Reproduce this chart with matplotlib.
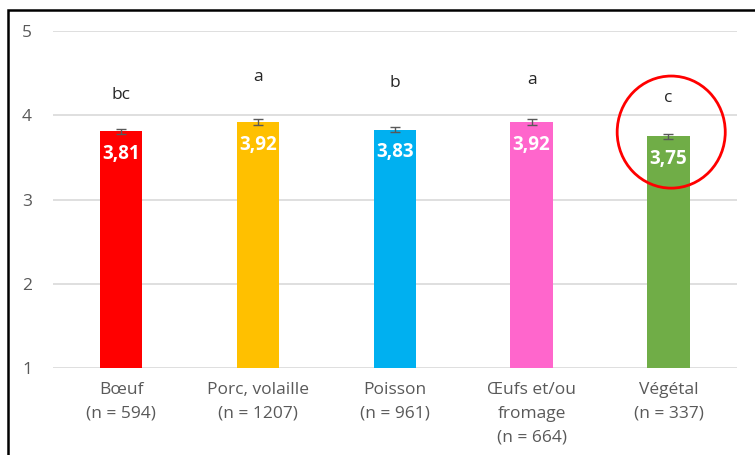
import matplotlib.pyplot as plt
from matplotlib.patches import Ellipse, Rectangle

plt.rcParams['font.family'] = ['Open Sans', 'DejaVu Sans']

categories = ["Bœuf\n(n = 594)", "Porc, volaille\n(n = 1207)", "Poisson\n(n = 961)",
              "Œufs et/ou\nfromage\n(n = 664)", "Végétal\n(n = 337)"]
means = [3.81, 3.92, 3.83, 3.92, 3.75]
errors = [0.03, 0.03, 0.03, 0.03, 0.03]
groups = ["bc", "a", "b", "a", "c"]
group_y = [4.24, 4.45, 4.38, 4.42, 4.21]
colors = ["#ff0000", "#ffc000", "#00b0f0", "#ff66cc", "#70ad47"]

fig = plt.figure(figsize=(7.55, 4.55), dpi=100)
ax = fig.add_axes([0.070, 0.191, 0.906, 0.741])

x = range(len(categories))
ax.bar(x, [m - 1 for m in means], bottom=1, width=0.31, color=colors, zorder=3)
ax.errorbar(x, means, yerr=errors, fmt="none", ecolor="#595959", elinewidth=1,
            capsize=3.5, capthick=1, zorder=4)

for i, m in enumerate(means):
    ax.text(i, m - 0.27, f"{m:.2f}".replace(".", ","), ha="center", va="center",
            color="white", fontsize=13.5, fontweight="bold", zorder=5)
    ax.text(i, group_y[i], groups[i], ha="center", va="center",
            color="#262626", fontsize=12.5)

ax.set_ylim(1, 5)
ax.set_xlim(-0.5, 4.5)
ax.set_yticks([1, 2, 3, 4, 5])
ax.set_xticks(list(x))
ax.set_xticklabels(categories, fontsize=12.5, color="#595959", linespacing=1.65)
ax.tick_params(axis="y", length=0, pad=15, labelsize=12.5, labelcolor="#595959")
ax.tick_params(axis="x", length=0, pad=10)
ax.grid(axis="y", color="#d9d9d9", linewidth=1.2, zorder=0)
for side in ["top", "right", "left", "bottom"]:
    ax.spines[side].set_visible(False)

# highlight around the plant-based group
ax.add_patch(Ellipse((4.02, 3.80), width=0.79, height=1.33, fill=False,
                     edgecolor="#ff0000", linewidth=2, clip_on=False, zorder=6))

# outer frame
fig.patches.append(Rectangle((8 / 755, -0.1), 1.1, 1.1 - 10 / 455,
                             transform=fig.transFigure, fill=False,
                             edgecolor="black", linewidth=1.8))

fig.savefig("out.png", dpi=100)
